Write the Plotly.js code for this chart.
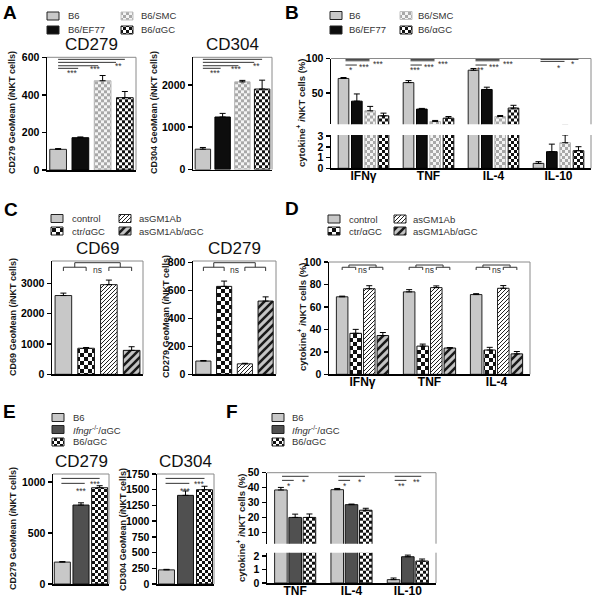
<!DOCTYPE html>
<html><head><meta charset="utf-8">
<script src="https://cdn.plot.ly/plotly-3.0.1.min.js"></script>
<style>html,body{margin:0;padding:0;background:#fff}#chart{width:600px;height:598px}</style>
</head><body>
<svg width="0" height="0" style="position:absolute;left:0;top:0">
<defs>
<pattern id="chk" patternUnits="userSpaceOnUse" width="6" height="6"><rect width="6" height="6" fill="#fff"/><rect width="3" height="3" fill="#111"/><rect x="3" y="3" width="3" height="3" fill="#111"/></pattern>
<pattern id="chkl" patternUnits="userSpaceOnUse" width="6" height="6"><rect width="6" height="6" fill="#f4f4f4"/><rect width="3" height="3" fill="#a8a8a8"/><rect x="3" y="3" width="3" height="3" fill="#a8a8a8"/></pattern>
<pattern id="chk4" patternUnits="userSpaceOnUse" width="8" height="8"><rect width="8" height="8" fill="#fff"/><rect width="4" height="4" fill="#111"/><rect x="4" y="4" width="4" height="4" fill="#111"/></pattern>
<pattern id="hatchd" patternUnits="userSpaceOnUse" width="4" height="4"><rect width="4" height="4" fill="#fff"/><path d="M-1,1 l2,-2 M0,4 l4,-4 M3,5 l2,-2" stroke="#222" stroke-width="1"/></pattern>
<pattern id="hatchw" patternUnits="userSpaceOnUse" width="8" height="8"><rect width="8" height="8" fill="#c4c4c4"/><path d="M-2,2 l4,-4 M0,8 l8,-8 M6,10 l4,-4" stroke="#1a1a1a" stroke-width="2.6"/></pattern>
</defs></svg>
<div id="chart"></div>
<script>
// ================= DATA =================
// Panel A
const groupsA = ['B6', 'B6/EF77', 'B6/SMC', 'B6/αGC'];
const cd279A = [110, 172, 475, 385];
const cd279A_sem = [4, 4, 28, 33];
const cd304A = [480, 1240, 2070, 1900];
const cd304A_sem = [40, 85, 35, 210];
const sigA_cd279 = ['***', '***', '**'];
const sigA_cd304 = ['***', '***', '**'];

// Panel B
const cytokinesB = ['IFNγ', 'TNF', 'IL-4', 'IL-10'];
const B_B6 = [71, 65, 83, 0.46];
const B_B6_sem = [1.4, 2.9, 2.5, 0.16];
const B_EF77 = [38, 26.5, 55, 1.55];
const B_EF77_sem = [10.5, 1, 3.3, 0.7];
const B_SMC = [24, 8.4, 15.7, 2.38];
const B_SMC_sem = [6.4, 1.6, 1.5, 0.72];
const B_aGC = [16.7, 13.3, 28, 1.64];
const B_aGC_sem = [3.9, 2.4, 4, 0.37];
const sigB = [['***', '***', '*'], ['***', '***', '***'], ['***', '***', '**'], ['*', '*']];

// Panel C
const groupsC = ['control', 'ctr/αGC', 'asGM1Ab', 'asGM1Ab/αGC'];
const cd69C = [2600, 860, 2960, 790];
const cd69C_sem = [80, 25, 150, 120];
const cd279C = [95, 630, 75, 525];
const cd279C_sem = [4, 38, 4, 30];

// Panel D
const cytokinesD = ['IFNγ', 'TNF', 'IL-4'];
const D_control = [69, 73.4, 71];
const D_control_sem = [0.6, 2, 0.8];
const D_ctr = [36.5, 25.1, 21.6];
const D_ctr_sem = [3.5, 1.8, 2.4];
const D_asGM = [76.2, 77.2, 76.6];
const D_asGM_sem = [2.7, 1.5, 2.4];
const D_asGMaGC = [34.5, 23.4, 18.2];
const D_asGMaGC_sem = [2.7, 0.4, 2.1];

// Panel E
const groupsE = ['B6', '<i>Ifngr</i><sup>-/-</sup>/αGC', 'B6/αGC'];
const cd279E = [215, 775, 945];
const cd279E_sem = [5, 22, 20];
const cd304E = [225, 1410, 1500];
const cd304E_sem = [8, 70, 55];
const sigE = ['***', '***'];

// Panel F
const cytokinesF = ['TNF', 'IL-4', 'IL-10'];
const F_B6 = [38.5, 38.7, 0.25];
const F_B6_sem = [1.7, 0.8, 0.12];
const F_Ifngr = [20.2, 28.7, 1.95];
const F_Ifngr_sem = [2.2, 0.4, 0.12];
const F_aGC = [20.2, 25, 1.63];
const F_aGC_sem = [2.3, 1.3, 0.15];
const sigF = [['*', '*'], ['*', '*'], ['**', '**']];

// ================= STYLE / LAYOUT HELPERS =================
const W = 600, H = 598;
const FONT = 'Liberation Sans, Arial, sans-serif';
const px = x => x / W, py = y => 1 - y / H;
const xd = (l, r) => [l / W, r / W];
const yd = (t, b) => [1 - b / H, 1 - t / H];

const S = {
  b6: {color: '#c8c8c8', line: '#222', pat: ''},
  ef77: {color: '#0d0d0d', line: '#000', pat: ''},
  smc: {color: '#d8d8d8', line: '#b4b4b4', pat: 'chkl'},
  agc: {color: '#777', line: '#111', pat: 'chk'},
  ctrAgc: {color: '#777', line: '#111', pat: 'chk4'},
  asgm: {color: '#999', line: '#222', pat: 'hatchd'},
  asgmAgc: {color: '#888', line: '#111', pat: 'hatchw'},
  ifngr: {color: '#505050', line: '#111', pat: ''}
};

const traces = [], shapes = [], annotations = [], shapePat = {};
const layout = {
  width: W, height: H, margin: {l: 0, r: 0, t: 0, b: 0},
  paper_bgcolor: '#fff', plot_bgcolor: '#fff', showlegend: false,
  font: {family: FONT, color: '#111'}, barmode: 'overlay'
};
const axName = id => id[0] + 'axis' + id.slice(1);

function barTrace(xs, ys, sem, st, xa, ya, bw, off) {
  return {
    type: 'bar', x: xs, y: ys, xaxis: xa, yaxis: ya, width: bw, offset: off,
    marker: {color: st.color, line: {color: st.line, width: 1}},
    meta: st.pat,
    error_y: {type: 'data', array: sem, arrayminus: sem.map(() => 0), symmetric: false,
      color: '#000', thickness: 1, width: 3},
    hoverinfo: 'skip', showlegend: false
  };
}
function yAxis(id, dom, range, ticks, anchor) {
  layout[axName(id)] = {
    domain: dom, range: range, tickvals: ticks, ticktext: ticks.map(String), anchor: anchor,
    showline: true, linecolor: '#000', linewidth: 1.5, ticks: 'outside', ticklen: 4,
    tickwidth: 1.5, tickcolor: '#000', showgrid: false, zeroline: false, fixedrange: true,
    tickfont: {family: FONT, size: 10.5, color: '#000', weight: 'bold'}
  };
}
function xAxis(id, dom, cats, anchor, labels) {
  layout[axName(id)] = {
    domain: dom, type: 'category', categoryorder: 'array', categoryarray: cats,
    range: [-0.5, cats.length - 0.5], anchor: anchor, showline: true, linecolor: '#000',
    linewidth: 1.5, ticks: '', showticklabels: labels, showgrid: false, zeroline: false,
    ticklabelstandoff: -4,
    fixedrange: true, tickfont: {family: FONT, size: 12, color: '#000', weight: 'bold'}
  };
}
function frame(xa, ya, sides) {
  const xr = xa + ' domain', yr = ya + ' domain', ln = {color: '#8a8a8a', width: 1};
  if (sides.includes('t')) shapes.push({type: 'line', xref: xr, yref: yr, x0: 0, x1: 1, y0: 1, y1: 1, line: ln});
  if (sides.includes('r')) shapes.push({type: 'line', xref: xr, yref: yr, x0: 1, x1: 1, y0: 0, y1: 1, line: ln});
}
function pTitle(xa, ya, text) {
  annotations.push({xref: xa + ' domain', yref: ya + ' domain', x: 0.5, y: 1, yanchor: 'bottom',
    yshift: 1, text: text, showarrow: false, font: {family: FONT, size: 17, color: '#111'}});
}
function yTitle(x, y, text, size) {
  annotations.push({xref: 'paper', yref: 'paper', x: px(x), y: py(y), text: '<b>' + text + '</b>',
    textangle: -90, showarrow: false, xanchor: 'center', yanchor: 'middle',
    font: {family: FONT, size: size, color: '#1a1a1a'}});
}
function letter(x, y, t) {
  annotations.push({xref: 'paper', yref: 'paper', x: px(x), y: py(y), text: '<b>' + t + '</b>',
    showarrow: false, xanchor: 'center', yanchor: 'middle', font: {family: FONT, size: 19, color: '#000'}});
}
function legendItem(sx, cy, tx, st, label) {
  const k = shapes.length;
  shapes.push({type: 'rect', xref: 'paper', yref: 'paper', x0: px(sx), x1: px(sx + 12),
    y0: py(cy + 4), y1: py(cy - 4), fillcolor: st.color, line: {color: st.line === '#b4b4b4' ? '#c0c0c0' : '#222', width: 1}});
  if (st.pat) shapePat[k] = st.pat;
  annotations.push({xref: 'paper', yref: 'paper', x: px(tx), y: py(cy), xanchor: 'left', yanchor: 'middle',
    text: label, showarrow: false, font: {family: FONT, size: 9.5, color: '#333'}});
}
function hl(xa, ya, x0, x1, y) {
  shapes.push({type: 'line', xref: xa, yref: ya, x0: x0, x1: x1, y0: y, y1: y, line: {color: '#333', width: 1}});
}
function vl(xa, ya, x, y0, y1) {
  shapes.push({type: 'line', xref: xa, yref: ya, x0: x, x1: x, y0: y0, y1: y1, line: {color: '#333', width: 1}});
}
function star(xa, ya, x, y, t) {
  annotations.push({xref: xa, yref: ya, x: x, y: y, text: t, showarrow: false, yshift: -2,
    xanchor: 'center', yanchor: 'middle', font: {family: FONT, size: 8.5, color: '#333'}});
}
function singlePanel(xa, ya, cats, vals, sems, styles, bw) {
  cats.forEach((c, i) => traces.push(barTrace([c], [vals[i]], [sems[i]], styles[i], xa, ya, bw, -bw / 2)));
}
function groupPanel(xa, yas, cats, series, sems, styles, gap, ggap) {
  const N = series.length, gw = 1 - gap, slot = gw / N, bw = slot * (1 - ggap);
  series.forEach((s, j) => {
    const off = -gw / 2 + j * slot + (slot - bw) / 2;
    yas.forEach(ya => traces.push(barTrace(cats, s, sems[j], styles[j], xa, ya, bw, off)));
  });
  return j => -gw / 2 + j * slot + slot / 2;
}
function bracketPair(xa, ya, a0, a1, b0, b1, yTop, yMid, yLow, nsY) {
  [[a0, a1], [b0, b1]].forEach(([u, v]) => {
    hl(xa, ya, u, v, yMid); vl(xa, ya, u, yMid, yLow); vl(xa, ya, v, yMid, yLow);
    vl(xa, ya, (u + v) / 2, yMid, yTop);
  });
  hl(xa, ya, (a0 + a1) / 2, (b0 + b1) / 2, yTop);
  star(xa, ya, (a1 + b0) / 2, nsY, 'ns');
}

// ================= PANEL A =================
const stA = [S.b6, S.ef77, S.smc, S.agc];
xAxis('x', xd(47, 136), groupsA, 'y', false);
yAxis('y', yd(57.3, 170), [0, 600], [0, 200, 400, 600], 'x');
singlePanel('x', 'y', groupsA, cd279A, cd279A_sem, stA, 0.75);
xAxis('x2', xd(193, 272), groupsA, 'y2', false);
yAxis('y2', yd(57.3, 169.5), [0, 2650], [0, 1000, 2000], 'x2');
singlePanel('x2', 'y2', groupsA, cd304A, cd304A_sem, stA, 0.78);
[['x', 'y', 600, sigA_cd279], ['x2', 'y2', 2650, sigA_cd304]].forEach(([xa, ya, T, lab]) => {
  [[3.0, .982], [2.6, .955], [1.8, .925], [0.9, .902]].forEach(([e, f]) => hl(xa, ya, 0, e, T * f));
  star(xa, ya, 0.65, T * .875, lab[0]); star(xa, ya, 1.7, T * .915, lab[1]); star(xa, ya, 2.73, T * .942, lab[2]);
});
frame('x', 'y', 'tr'); frame('x2', 'y2', 'tr');
pTitle('x', 'y', 'CD279'); pTitle('x2', 'y2', 'CD304');
yTitle(12, 113, 'CD279 GeoMean (<i>i</i>NKT cells)', 9);
yTitle(154, 113, 'CD304 GeoMean (<i>i</i>NKT cells)', 9);
letter(10, 13, 'A');
legendItem(47, 16, 66, stA[0], groupsA[0]);
legendItem(47, 30, 66, stA[1], groupsA[1]);
legendItem(121, 16, 139, stA[2], groupsA[2]);
legendItem(121, 30, 139, stA[3], groupsA[3]);

// ================= PANEL B (broken axis) =================
xAxis('x3', xd(331, 591), cytokinesB, 'y4', true);
yAxis('y3', yd(58.5, 124.3), [4.4, 100], [50, 100], 'x3');
yAxis('y4', yd(135, 168.3), [0, 3.1], [0, 1, 2, 3], 'x3');
const cB = groupPanel('x3', ['y3', 'y4'], cytokinesB, [B_B6, B_EF77, B_SMC, B_aGC],
  [B_B6_sem, B_EF77_sem, B_SMC_sem, B_aGC_sem], stA, 0.18, 0.2);
const kB = k => cB(0) + k * (cB(1) - cB(0));
sigB.forEach((lab, g) => {
  hl('x3', 'y3', g + kB(0.15), g + kB(lab.length === 3 ? 1.95 : 3.0), 98.7);
  hl('x3', 'y3', g + kB(0.15), g + kB(1.95), lab.length === 3 ? 96.7 : 95.8);
  if (lab.length === 3) {
    hl('x3', 'y3', g + kB(0.15), g + kB(1.0), 90.5);
    star('x3', 'y3', g + kB(2.6), 95.3, lab[0]);
    star('x3', 'y3', g + kB(1.6), 90, lab[1]);
    star('x3', 'y3', g + kB(0.56), 85.5, lab[2]);
  } else {
    star('x3', 'y3', g + kB(2.6), 95.3, lab[0]);
    star('x3', 'y3', g + kB(1.55), 89, lab[1]);
  }
});
frame('x3', 'y3', 'tr'); frame('x3', 'y4', 'r');
yTitle(301, 113, 'cytokine<sup>+</sup> <i>i</i>NKT cells (%)', 9.5);
letter(292, 13, 'B');
legendItem(330, 15.5, 347, stA[0], groupsA[0]);
legendItem(330, 30, 347, stA[1], groupsA[1]);
legendItem(400, 15.5, 416, stA[2], groupsA[2]);
legendItem(400, 30, 416, stA[3], groupsA[3]);

// ================= PANEL C =================
const stC = [S.b6, S.ctrAgc, S.asgm, S.asgmAgc];
xAxis('x4', xd(52, 143), groupsC, 'y5', false);
yAxis('y5', yd(261, 374.3), [0, 3740], [0, 1000, 2000, 3000], 'x4');
singlePanel('x4', 'y5', groupsC, cd69C, cd69C_sem, stC, 0.73);
xAxis('x5', xd(193, 276), groupsC, 'y6', false);
yAxis('y6', yd(261, 374.3), [0, 812], [0, 200, 400, 600, 800], 'x5');
singlePanel('x5', 'y6', groupsC, cd279C, cd279C_sem, stC, 0.73);
[['x4', 'y5', 3740], ['x5', 'y6', 812]].forEach(([xa, ya, T]) =>
  bracketPair(xa, ya, 0, 1, 2, 3, T * .985, T * .945, T * .912, T * .94));
frame('x4', 'y5', 'tr'); frame('x5', 'y6', 'tr');
pTitle('x4', 'y5', 'CD69'); pTitle('x5', 'y6', 'CD279');
yTitle(13, 317, 'CD69 GeoMean (<i>i</i>NKT cells)', 9);
yTitle(166, 317, 'CD279 GeoMean (<i>i</i>NKT cells)', 9);
letter(11, 209, 'C');
legendItem(51, 218.5, 70, stC[0], groupsC[0]);
legendItem(51, 231, 70, stC[1], groupsC[1]);
legendItem(119, 218.5, 137, stC[2], groupsC[2]);
legendItem(119, 231, 137, stC[3], groupsC[3]);

// ================= PANEL D =================
xAxis('x6', xd(329, 530), cytokinesD, 'y7', true);
yAxis('y7', yd(262, 374.3), [0, 100], [0, 20, 40, 60, 80, 100], 'x6');
const cD = groupPanel('x6', ['y7'], cytokinesD, [D_control, D_ctr, D_asGM, D_asGMaGC],
  [D_control_sem, D_ctr_sem, D_asGM_sem, D_asGMaGC_sem], stC, 0.19, 0.15);
cytokinesD.forEach((c, g) => bracketPair('x6', 'y7', g + cD(0), g + cD(1), g + cD(2), g + cD(3), 97.3, 95.3, 92.9, 94.6));
frame('x6', 'y7', 'tr');
yTitle(302, 317, 'cytokine<sup>+</sup> <i>i</i>NKT cells (%)', 9.5);
letter(292, 208, 'D');
legendItem(328, 219, 347, stC[0], groupsC[0]);
legendItem(328, 231, 347, stC[1], groupsC[1]);
legendItem(394, 219, 411, stC[2], groupsC[2]);
legendItem(394, 231, 411, stC[3], groupsC[3]);

// ================= PANEL E =================
const stE = [S.b6, S.ifngr, S.agc];
xAxis('x7', xd(53, 109), groupsE, 'y8', false);
yAxis('y8', yd(474, 584), [0, 1080], [0, 500, 1000], 'x7');
singlePanel('x7', 'y8', groupsE, cd279E, cd279E_sem, stE, 0.86);
xAxis('x8', xd(157, 214), groupsE, 'y9', false);
yAxis('y9', yd(474, 584), [0, 1750], [0, 250, 500, 750, 1000, 1250, 1500, 1750], 'x8');
singlePanel('x8', 'y9', groupsE, cd304E, cd304E_sem, stE, 0.84);
[['x7', 'y8', 1080], ['x8', 'y9', 1750]].forEach(([xa, ya, T]) => {
  hl(xa, ya, -0.05, 2.0, T * .96); hl(xa, ya, -0.05, 1.2, T * .915);
  star(xa, ya, 1.0, T * .86, sigE[0]); star(xa, ya, 1.75, T * .93, sigE[1]);
});
frame('x7', 'y8', 'tr'); frame('x8', 'y9', 'tr');
pTitle('x7', 'y8', 'CD279'); pTitle('x8', 'y9', 'CD304');
yTitle(13, 529, 'CD279 GeoMean (<i>i</i>NKT cells)', 9);
yTitle(123, 529, 'CD304 GeoMean (<i>i</i>NKT cells)', 9);
letter(9, 411, 'E');
legendItem(52, 417.5, 71, stE[0], groupsE[0]);
legendItem(52, 429.5, 71, stE[1], groupsE[1]);
legendItem(52, 442, 71, stE[2], groupsE[2]);

// ================= PANEL F (broken axis) =================
xAxis('x9', xd(267, 436), cytokinesF, 'y11', true);
yAxis('y10', yd(472.7, 543.7), [2.7, 50], [10, 20, 30, 40, 50], 'x9');
yAxis('y11', yd(552.7, 583), [0, 2.25], [0, 1, 2], 'x9');
const cF = groupPanel('x9', ['y10', 'y11'], cytokinesF, [F_B6, F_Ifngr, F_aGC],
  [F_B6_sem, F_Ifngr_sem, F_aGC_sem], stE, 0.24, 0.12);
const kF = k => cF(0) + k * (cF(1) - cF(0));
sigF.forEach((lab, g) => {
  hl('x9', 'y10', g + kF(0.08), g + kF(1.94), 47.6);
  hl('x9', 'y10', g + kF(0.08), g + kF(0.9), 44.9);
  star('x9', 'y10', g + kF(0.55), 42.2, lab[0]);
  star('x9', 'y10', g + kF(1.6), 45.4, lab[1]);
});
frame('x9', 'y10', 'tr'); frame('x9', 'y11', 'r');
yTitle(241, 528, 'cytokine<sup>+</sup> <i>i</i>NKT cells (%)', 9.5);
letter(232, 411, 'F');
legendItem(272, 417.5, 290, stE[0], groupsE[0]);
legendItem(272, 429.5, 290, stE[1], groupsE[1]);
legendItem(272, 442, 290, stE[2], groupsE[2]);

layout.shapes = shapes;
layout.annotations = annotations;

const gd = document.getElementById('chart');
function applyPatterns() {
  gd.querySelectorAll('g.trace.bars').forEach(g => {
    const cd = g.__data__;
    const tr = cd && cd[0] && cd[0].trace;
    if (tr && tr.meta) g.querySelectorAll('g.point path').forEach(p => { p.style.fill = 'url(#' + tr.meta + ')'; });
  });
  gd.querySelectorAll('.shapelayer path[data-index]').forEach(p => {
    const k = +p.getAttribute('data-index');
    if (shapePat[k]) p.style.fill = 'url(#' + shapePat[k] + ')';
  });
}
Plotly.newPlot(gd, traces, layout, {staticPlot: true, displayModeBar: false}).then(() => {
  applyPatterns();
  gd.on('plotly_afterplot', applyPatterns);
});
</script>
</body></html>
